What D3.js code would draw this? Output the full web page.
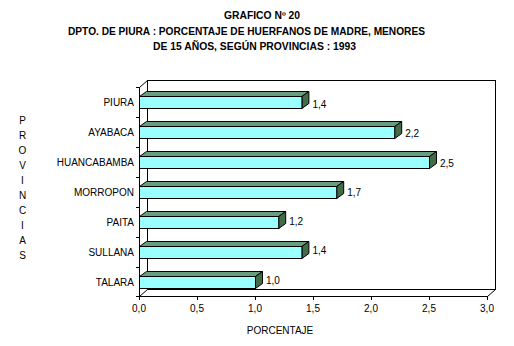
<!DOCTYPE html>
<html><head><meta charset="utf-8">
<script src="https://cdn.jsdelivr.net/npm/d3@7"></script>
<style>body{margin:0;background:#fff}svg{display:block}text{font-family:"Liberation Sans",Arial,sans-serif}</style>
</head><body>
<svg id="c" width="514" height="346"></svg>
<script>
const titleLines = ["GRAFICO Nº 20","DPTO. DE PIURA : PORCENTAJE DE HUERFANOS DE MADRE, MENORES","DE 15 AÑOS, SEGÚN PROVINCIAS : 1993"];
const categories = ["PIURA","AYABACA","HUANCABAMBA","MORROPON","PAITA","SULLANA","TALARA"];
const values = [1.4,2.2,2.5,1.7,1.2,1.4,1.0];
const valueLabels = ["1,4","2,2","2,5","1,7","1,2","1,4","1,0"];
const xTicks = [0,0.5,1,1.5,2,2.5,3];
const yTitle = "PROVINCIAS";
const xTitle = "PORCENTAJE";

const svg = d3.select("#c");
const x = d3.scaleLinear().domain([0,3]).range([139,487]);
const y = d3.scaleBand().domain(categories).range([87,297]).paddingInner(0.6).paddingOuter(0.3);
const yLab = d3.scalePoint().domain(categories).range([108,283.5]);
const yAxisBand = d3.scaleBand().domain(categories).range([87,297]);
const wdx = 8, wdy = 7; // wall depth
const bdx = 7, bdy = 5; // bar depth
const x0 = x(0), yTop = 87, yBot = 296;

// title
const tl = [{t:titleLines[0],cx:262,y:18.5,w:76},{t:titleLines[1],cx:246.5,y:35,w:357},{t:titleLines[2],cx:254.5,y:50,w:203}];
svg.selectAll("text.title").data(tl).join("text").attr("class","title")
  .attr("x",d=>d.cx).attr("y",d=>d.y).attr("text-anchor","middle")
  .attr("font-size",10).attr("font-weight","bold")
  .attr("textLength",d=>d.w).attr("lengthAdjust","spacingAndGlyphs").text(d=>d.t);

// walls
const g = svg.append("g").attr("fill","none").attr("stroke","#000").attr("stroke-width",1).attr("shape-rendering","crispEdges");
// back wall
g.append("rect").attr("x",x0+wdx+0.5).attr("y",yTop-wdy+0.5).attr("width",x(3)-x0).attr("height",yBot-yTop);
// left wall front line
g.append("line").attr("x1",x0+0.5).attr("x2",x0+0.5).attr("y1",yTop).attr("y2",yBot+1);
// bottom front line
g.append("line").attr("x1",x0).attr("x2",x(3)+1).attr("y1",yBot+0.5).attr("y2",yBot+0.5);
const diag = svg.append("g").attr("stroke","#000").attr("fill","none");
diag.append("line").attr("x1",x0+0.5).attr("y1",yTop+0.5).attr("x2",x0+wdx+0.5).attr("y2",yTop-wdy+0.5);
diag.append("line").attr("x1",x0+0.5).attr("y1",yBot+0.5).attr("x2",x0+wdx+0.5).attr("y2",yBot-wdy+0.5);
diag.append("line").attr("x1",x(3)+0.5).attr("y1",yBot+0.5).attr("x2",x(3)+wdx+0.5).attr("y2",yBot-wdy+0.5);

// y ticks
const yTickPos = categories.map(c=>yAxisBand(c)).concat([yBot]);
g.selectAll("line.yt").data(yTickPos).join("line").attr("class","yt")
  .attr("x1",x0-3).attr("x2",x0).attr("y1",d=>Math.round(d)+0.5).attr("y2",d=>Math.round(d)+0.5);
// x ticks
g.selectAll("line.xt").data(xTicks).join("line").attr("class","xt")
  .attr("x1",d=>Math.round(x(d))+0.5).attr("x2",d=>Math.round(x(d))+0.5).attr("y1",yBot).attr("y2",yBot+4);
svg.selectAll("text.xl").data(xTicks).join("text").attr("class","xl")
  .attr("x",d=>x(d)).attr("y",312).attr("text-anchor","middle").attr("font-size",10)
  .text(d=>d3.format(".1f")(d).replace(".",","));

// bars
const bars = svg.selectAll("g.bar").data(categories.map((c,i)=>({c,v:values[i],l:valueLabels[i]}))).join("g").attr("class","bar");
bars.append("path").attr("fill","#669E80").attr("stroke","#000").attr("stroke-linejoin","round")
  .attr("d",d=>{const yy=y(d.c)+0.5, a=x0+0.5, b=x(d.v)+0.5; return `M${a},${yy}L${a+bdx},${yy-bdy}L${b+bdx},${yy-bdy}L${b},${yy}Z`;});
bars.append("path").attr("fill","#446A48").attr("stroke","#000").attr("stroke-linejoin","round")
  .attr("d",d=>{const yy=y(d.c)+0.5, h=y.bandwidth(), b=x(d.v)+0.5; return `M${b},${yy}L${b+bdx},${yy-bdy}L${b+bdx},${yy+h-bdy}L${b},${yy+h}Z`;});
bars.append("rect").attr("fill","#99FFFF").attr("stroke","#000")
  .attr("x",x0+0.5).attr("y",d=>y(d.c)+0.5).attr("width",d=>x(d.v)-x0).attr("height",y.bandwidth());
bars.append("text").attr("x",d=>x(d.v)+bdx+4).attr("y",d=>yLab(d.c)).attr("font-size",10).text(d=>d.l);

// category labels
svg.selectAll("text.cat").data(categories).join("text").attr("class","cat")
  .attr("x",134).attr("y",d=>y(d)+y.bandwidth()/2+3.5).attr("text-anchor","end").attr("font-size",10).text(d=>d);

// y title stacked
svg.selectAll("text.yt").data(yTitle.split("")).join("text").attr("class","yt")
  .attr("x",22.5).attr("y",(d,i)=>120+i*15+3.5).attr("text-anchor","middle").attr("font-size",10).text(d=>d);
// x title
svg.append("text").attr("x",280).attr("y",334).attr("text-anchor","middle").attr("font-size",10).text(xTitle);
</script></body></html>
